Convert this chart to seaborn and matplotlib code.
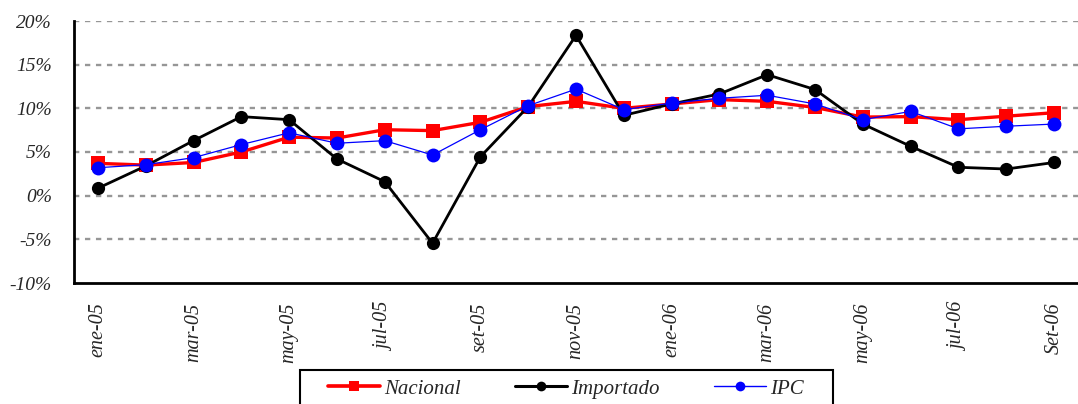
import matplotlib
matplotlib.use("Agg")
import matplotlib.pyplot as plt
from matplotlib.lines import Line2D
from matplotlib.patches import Rectangle
import seaborn as sns
import numpy as np
import pandas as pd

months = ["ene-05", "feb-05", "mar-05", "abr-05", "may-05", "jun-05", "jul-05", "ago-05",
          "set-05", "oct-05", "nov-05", "dic-05", "ene-06", "feb-06", "mar-06", "abr-06",
          "may-06", "jun-06", "jul-06", "ago-06", "Set-06"]
nacional = [3.7, 3.5, 3.8, 5.0, 6.7, 6.6, 7.55, 7.45, 8.4, 10.2, 10.8, 10.0, 10.5, 11.0,
            10.8, 10.1, 9.0, 9.05, 8.7, 9.1, 9.5]
importado = [0.85, 3.4, 6.3, 9.05, 8.7, 4.2, 1.6, -5.45, 4.45, 10.2, 18.35, 9.2, 10.5,
             11.65, 13.85, 12.15, 8.2, 5.65, 3.25, 3.05, 3.8]
ipc = [3.2, 3.55, 4.35, 5.85, 7.2, 6.0, 6.3, 4.65, 7.55, 10.3, 12.2, 9.85, 10.6, 11.15,
       11.5, 10.5, 8.7, 9.65, 7.65, 7.95, 8.2]
yticks = [-10, -5, 0, 5, 10, 15, 20]

df = pd.DataFrame({"idx": np.arange(len(months)), "mes": months,
                   "Nacional": nacional, "Importado": importado, "IPC": ipc})

sns.set_style("white")
plt.rcParams["font.family"] = ["Liberation Serif", "DejaVu Serif"]

W, H = 1078, 404
fig = plt.figure(figsize=(W / 100, H / 100), dpi=100)
left, right, top, bottom = 74, 1078, 21, 283
ax = fig.add_axes([left / W, 1 - bottom / H, (right - left) / W, (bottom - top) / H])

for yv in yticks[1:]:
    ax.axhline(yv, color="#969696", lw=1.7, ls=(0, (2.25, 2.4)), zorder=0)

styles = {
    "Nacional": dict(color="#ff0000", lw=2.4, marker="s", markersize=10),
    "Importado": dict(color="black", lw=2.0, marker="o", markersize=9.5),
    "IPC": dict(color="#0000ff", lw=0.9, marker="o", markersize=10),
}
for name, st in styles.items():
    sns.lineplot(data=df, x="idx", y=name, ax=ax, markeredgewidth=0, legend=False, **st)

step = 48.3
ax.set_xlim(-0.5, -0.5 + (right - left) / step)
ax.set_ylim(-10, 20)

ax.set_yticks(yticks)
ax.set_yticklabels([f"{v}%" for v in yticks], fontsize=14, style="italic")

ax.set_xticks(np.arange(len(months) + 1) - 0.5)
ax.set_xticklabels([])
ax.set_xticks(np.arange(0, len(months), 2), minor=True)
ax.set_xticklabels([months[i] for i in range(0, len(months), 2)], minor=True,
                   rotation=90, fontsize=14.5, style="italic")
ax.tick_params(axis="x", which="major", direction="out", length=7, width=2, color="black")
ax.tick_params(axis="x", which="minor", length=0, pad=14)
ax.tick_params(axis="y", direction="out", length=7, width=2, color="black", pad=9)

ax.set_xlabel("")
ax.set_ylabel("")
for s in ["top", "right"]:
    ax.spines[s].set_visible(False)
for s in ["left", "bottom"]:
    ax.spines[s].set_color("black")
    ax.spines[s].set_linewidth(2)

handles = []
for name, st in styles.items():
    h = Line2D([], [], color=st["color"], lw=st["lw"] * 1.1 if name != "IPC" else 1.0,
               marker=st["marker"], markersize=7, markeredgewidth=0)
    handles.append(h)
leg = fig.legend(handles, list(styles.keys()), ncol=3, loc="center",
                 bbox_to_anchor=(566 / W, 1 - 389 / H), frameon=False,
                 prop={"family": "Liberation Serif", "style": "italic", "size": 15},
                 handlelength=2.5, columnspacing=2.6, handletextpad=0.2)
fig.add_artist(Rectangle((300 / W, -0.05), 533 / W, 0.05 + 1 - 370 / H,
                         transform=fig.transFigure, fill=False, edgecolor="black",
                         lw=1.5))

fig.savefig("out.png", dpi=100)
